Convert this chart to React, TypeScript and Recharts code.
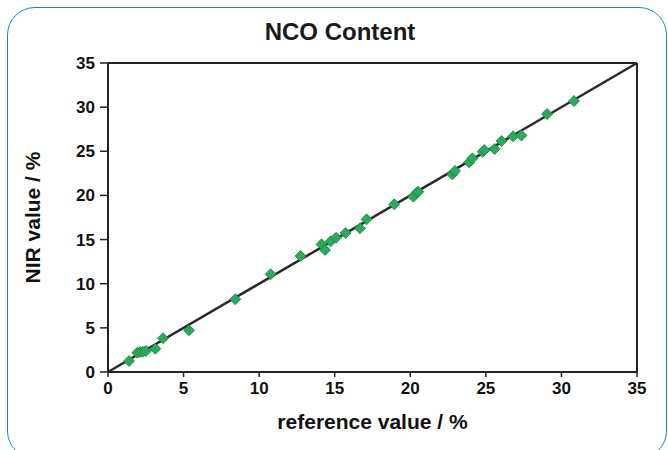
import React from "react";
import {
  ScatterChart,
  Scatter,
  XAxis,
  YAxis,
  ReferenceLine,
} from "recharts";

const referenceValues = [
  1.39, 1.94, 2.12, 2.3, 2.51, 3.13, 3.64, 5.36, 8.42, 10.76, 12.74, 14.13,
  14.36, 14.73, 15.09, 15.72, 16.67, 17.11, 18.94, 20.2, 20.42, 20.53, 22.78,
  22.96, 23.89, 24.11, 24.79, 24.9, 25.58, 26.04, 26.8, 27.35, 29.05, 30.83,
];
const nirValues = [
  1.25, 2.19, 2.27, 2.3, 2.38, 2.64, 3.82, 4.72, 8.23, 11.07, 13.14, 14.46,
  13.82, 14.8, 15.21, 15.74, 16.27, 17.29, 18.99, 19.86, 20.31, 20.42, 22.39,
  22.77, 23.75, 24.2, 24.95, 25.14, 25.26, 26.16, 26.69, 26.8, 29.22, 30.69,
];
const axisTicks = [0, 5, 10, 15, 20, 25, 30, 35];

const points = referenceValues.map((x, i) => ({ x, y: nirValues[i] }));

const font = "'Liberation Sans', Arial, sans-serif";

const Diamond = (props: any) => {
  const { cx, cy } = props;
  const r = 5.5;
  return (
    <polygon
      points={`${cx},${cy - r} ${cx + r},${cy} ${cx},${cy + r} ${cx - r},${cy}`}
      fill="#27ad5a"
      stroke="#1c7f40"
      strokeWidth={0.8}
    />
  );
};

export default function App() {
  return (
    <div
      style={{
        position: "absolute",
        left: 0,
        top: 0,
        width: 668,
        height: 450,
        overflow: "hidden",
        background: "#fff",
      }}
    >
      <div
        style={{
          position: "absolute",
          left: 7,
          top: 7,
          width: 660,
          height: 452,
          border: "1.5px solid #1f80cf",
          borderRadius: 28,
          boxSizing: "border-box",
        }}
      />
      <div
        style={{
          position: "absolute",
          left: 0,
          top: 18,
          width: 680,
          textAlign: "center",
          fontFamily: font,
          fontWeight: "bold",
          fontSize: 24,
          color: "#1a1a1a",
        }}
      >
        NCO Content
      </div>
      <div style={{ position: "absolute", left: 0, top: 0 }}>
        <ScatterChart
          width={668}
          height={450}
          margin={{ top: 63, right: 31, bottom: 48, left: 68 }}
        >
          <XAxis
            type="number"
            dataKey="x"
            domain={[0, 35]}
            ticks={axisTicks}
            interval={0}
            height={30}
            axisLine={{ stroke: "#222", strokeWidth: 2 }}
            tickLine={{ stroke: "#222", strokeWidth: 1.5 }}
            tickSize={5}
            tickMargin={5}
            tick={{
              fill: "#111",
              fontSize: 17,
              fontWeight: "bold",
              fontFamily: font,
            }}
            label={{
              value: "reference value / %",
              position: "insideBottom",
              offset: -27,
              fill: "#111",
              fontSize: 21,
              fontWeight: "bold",
              fontFamily: font,
            }}
          />
          <YAxis
            type="number"
            dataKey="y"
            domain={[0, 35]}
            ticks={axisTicks}
            interval={0}
            width={40}
            axisLine={{ stroke: "#222", strokeWidth: 2 }}
            tickLine={{ stroke: "#222", strokeWidth: 1.5 }}
            tickSize={8}
            tickMargin={5}
            tick={{
              fill: "#111",
              fontSize: 17,
              fontWeight: "bold",
              fontFamily: font,
            }}
            label={{
              value: "NIR value / %",
              angle: -90,
              position: "insideLeft",
              offset: -35,
              style: { textAnchor: "middle" },
              fill: "#111",
              fontSize: 21,
              fontWeight: "bold",
              fontFamily: font,
            }}
          />
          <ReferenceLine y={35} stroke="#222" strokeWidth={2} />
          <ReferenceLine x={35} stroke="#222" strokeWidth={2} />
          <ReferenceLine
            segment={[
              { x: 0, y: 0 },
              { x: 35, y: 35 },
            ]}
            stroke="#2a2a2a"
            strokeWidth={2.5}
          />
          <Scatter
            data={points}
            shape={Diamond}
            isAnimationActive={false}
          />
        </ScatterChart>
      </div>
    </div>
  );
}
